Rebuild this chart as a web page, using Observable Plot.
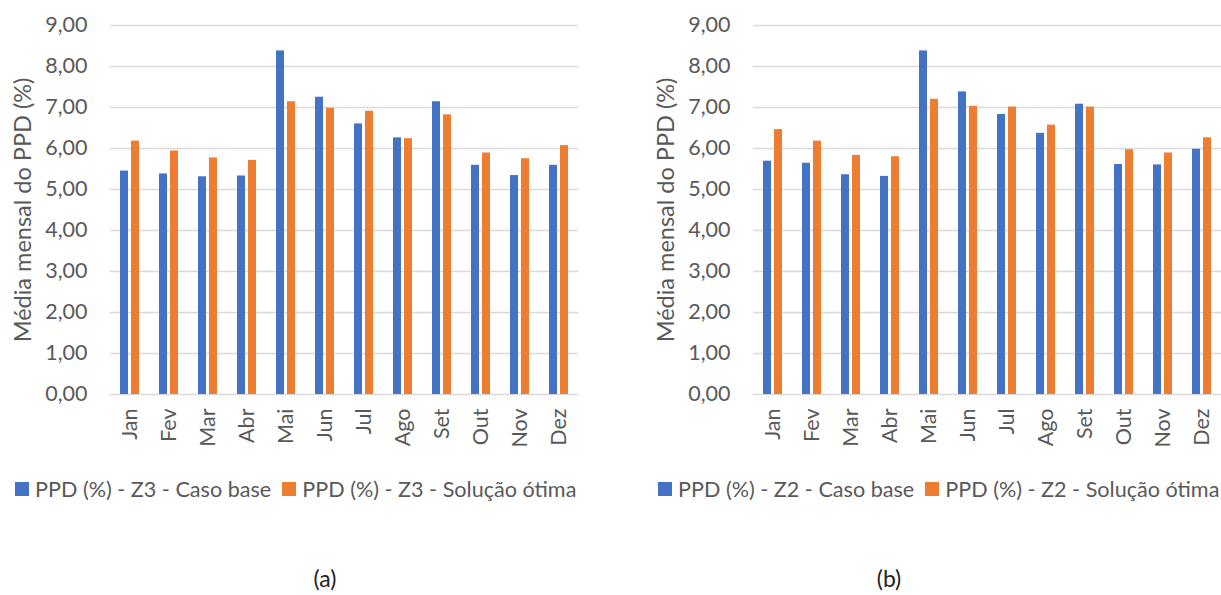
<!DOCTYPE html>
<html>
<head>
<meta charset="utf-8">
<script src="https://cdn.jsdelivr.net/npm/d3@7"></script>
<script src="https://cdn.jsdelivr.net/npm/@observablehq/plot@0.6"></script>
<style>
  html, body { margin: 0; padding: 0; background: #fff; overflow: hidden; }
  #root { position: relative; width: 1221px; height: 595px; font-family: Lato, "Open Sans", sans-serif; }
  .chart { position: absolute; top: 0; }
  .ytitle { position: absolute; top: 210px; font-size: 23.5px; color: #595959; white-space: nowrap; transform: translate(-50%, -50%) rotate(-90deg); }
  .legend { position: absolute; top: 476px; display: flex; align-items: center; font-size: 21.6px; color: #595959; white-space: nowrap; }
  .legend .item { display: flex; align-items: center; margin-right: 11px; }
  .legend .sw { width: 14px; height: 14px; margin-right: 6px; }
  .caption { position: absolute; top: 564px; font-size: 23px; color: #222; transform: translateX(-50%); }
</style>
</head>
<body>
<div id="root"></div>
<script>
const months = ["Jan","Fev","Mar","Abr","Mai","Jun","Jul","Ago","Set","Out","Nov","Dez"];
const yTicks = [0,1,2,3,4,5,6,7,8,9];
const yTitle = "Média mensal do PPD (%)";
const colors = ["#4472C4", "#ED7D31"];

const z3Names = ["PPD (%) - Z3 - Caso base", "PPD (%) - Z3 - Solução ótima"];
const z3Base  = [5.45,5.38,5.31,5.33,8.38,7.25,6.60,6.26,7.14,5.59,5.34,5.59];
const z3Otima = [6.18,5.94,5.77,5.71,7.14,6.98,6.91,6.24,6.82,5.89,5.75,6.07];

const z2Names = ["PPD (%) - Z2 - Caso base", "PPD (%) - Z2 - Solução ótima"];
const z2Base  = [5.69,5.64,5.36,5.32,8.38,7.38,6.83,6.37,7.08,5.61,5.60,5.98];
const z2Otima = [6.46,6.18,5.83,5.80,7.20,7.03,7.01,6.57,7.01,5.97,5.89,6.26];

const captions = ["(a)", "(b)"];

const fmt = d => d.toFixed(2).replace(".", ",");

function makeChart(names, base, otima, left, width, marginRight, caption, capX) {
  const rows = [];
  months.forEach((m, i) => {
    rows.push({month: m, series: names[0], value: base[i]});
    rows.push({month: m, series: names[1], value: otima[i]});
  });
  const chart = Plot.plot({
    width, height: 470,
    marginLeft: 110, marginRight, marginTop: 25, marginBottom: 76,
    style: {fontFamily: "Lato, 'Open Sans', sans-serif", fontSize: "21.5px", color: "#595959", background: "white"},
    fx: {domain: months, paddingInner: 0, paddingOuter: 0, label: null, tickSize: 0, tickRotate: -90, tickPadding: 14},
    x: {domain: names, axis: null, paddingInner: 0.27, paddingOuter: 0.86},
    y: {domain: [0, 9], ticks: yTicks, tickFormat: fmt, tickSize: 0, tickPadding: 23, label: null},
    color: {domain: names, range: colors},
    marks: [
      Plot.ruleY(yTicks, {stroke: "#d9d9d9", strokeWidth: 1.3}),
      Plot.barY(rows, {fx: "month", x: "series", y: "value", fill: "series"})
    ]
  });
  chart.classList.add("chart");
  chart.style.left = left + "px";
  root.appendChild(chart);

  const yt = document.createElement("div");
  yt.className = "ytitle";
  yt.style.left = (left + 22) + "px";
  yt.textContent = yTitle;
  root.appendChild(yt);

  const lg = document.createElement("div");
  lg.className = "legend";
  lg.style.left = (left + 15) + "px";
  names.forEach((n, i) => {
    const it = document.createElement("div");
    it.className = "item";
    it.innerHTML = `<div class="sw" style="background:${colors[i]}"></div><span>${n}</span>`;
    lg.appendChild(it);
  });
  root.appendChild(lg);

  const cap = document.createElement("div");
  cap.className = "caption";
  cap.style.left = capX + "px";
  cap.textContent = caption;
  root.appendChild(cap);
}

const root = document.getElementById("root");
makeChart(z3Names, z3Base, z3Otima, 0, 600, 22, captions[0], 325);
makeChart(z2Names, z2Base, z2Otima, 643, 578, 0, captions[1], 889);
</script>
</body>
</html>
